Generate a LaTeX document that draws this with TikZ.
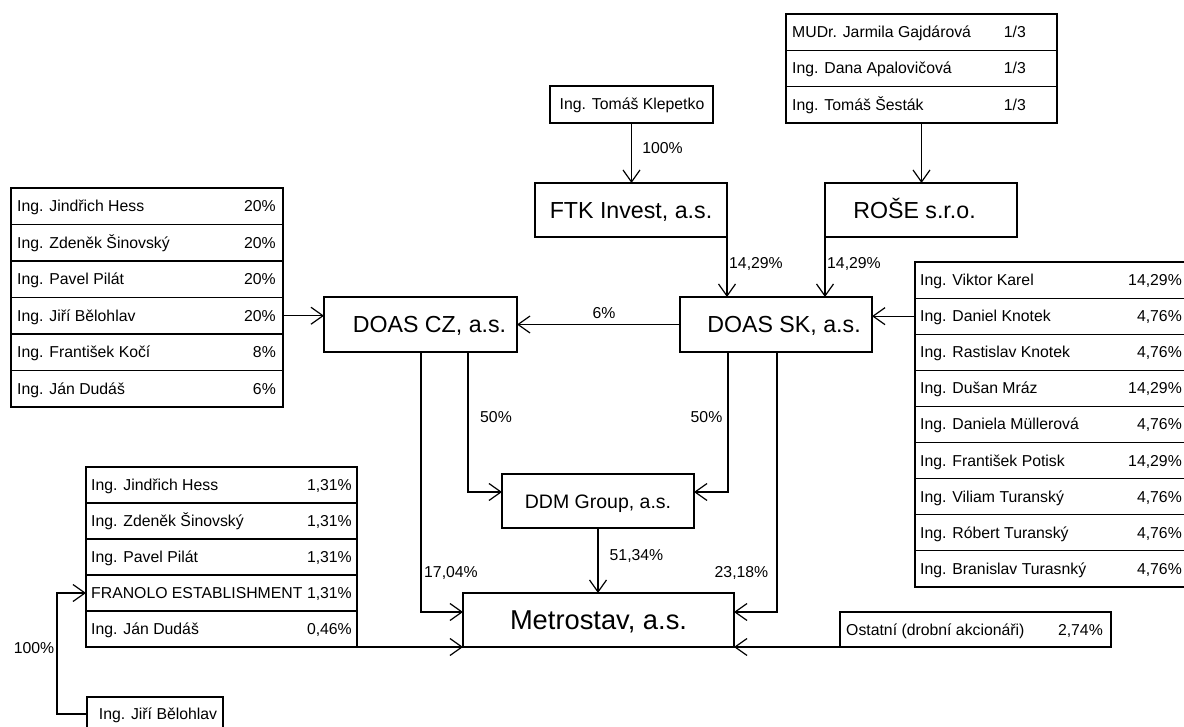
\documentclass[tikz,border=0pt]{standalone}
\usepackage{fontspec}
\setmainfont{Liberation Sans}
\usetikzlibrary{arrows.meta}
\begin{document}
\begin{tikzpicture}[x=1pt,y=-1pt,
  box/.style={draw, line width=1.2pt, inner sep=0pt, outer sep=0pt},
  ln/.style={line width=1.2pt},
  arr/.style={line width=1.2pt, -{Straight Barb[length=12pt,width=17pt]}},
  sm/.style={font=\fontsize{15.8}{18}\selectfont, inner sep=0pt},
  big/.style={font=\fontsize{23.2}{27}\selectfont, inner sep=0pt},
]
\useasboundingbox (0,0) rectangle (1184,727);

% ---------- main boxes ----------
\node[box, minimum width=163pt, minimum height=37pt] (klep) at (631.5,104.5) {};
\node[sm, anchor=base] (klept) at (632,110) {Ing. Tomáš Klepetko};

\node[box, minimum width=192pt, minimum height=54pt] (ftk) at (631,210) {};
\node[big, anchor=base] (ftkt) at (631,218.2) {FTK Invest, a.s.};

\node[box, minimum width=192pt, minimum height=54pt] (rose) at (921,210) {};
\node[big, anchor=base] (roset) at (914.5,218.2) {ROŠE s.r.o.};

\node[box, minimum width=193pt, minimum height=55pt] (cz) at (420.5,324.5) {};
\node[big, anchor=base] (czt) at (429.5,332.7) {DOAS CZ, a.s.};

\node[box, minimum width=192pt, minimum height=55pt] (sk) at (776,324.5) {};
\node[big, anchor=base] (skt) at (784,332.7) {DOAS SK, a.s.};

\node[box, minimum width=192pt, minimum height=54pt] (ddm) at (598,501) {};
\node[font=\fontsize{19.5}{23}\selectfont, inner sep=0pt, anchor=base] (ddmt) at (598,508) {DDM Group, a.s.};

\node[box, minimum width=271pt, minimum height=54pt] (metro) at (598.5,620) {};
\node[font=\fontsize{27.3}{32}\selectfont, inner sep=0pt, anchor=base] (metrot) at (598.5,629.7) {Metrostav, a.s.};

\node[box, minimum width=271pt, minimum height=35pt] (ost) at (975.5,629.5) {};
\node[sm, anchor=base west] (ostn) at (846,635) {Ostatní (drobní akcionáři)};
\node[sm, anchor=base east] (ostp) at (1103,635) {2,74\%};

\node[box, minimum width=136pt, minimum height=34pt] (bel) at (155,714) {};
\node[sm, anchor=base] (belt) at (158,719.5) {Ing. Jiří Bělohlav};

% ---------- tables ----------
% top right
\foreach \n [count=\i] in {MUDr. Jarmila Gajdárová, Ing. Dana Apalovičová, Ing. Tomáš Šesták}{
  \node[box, minimum width=271pt, minimum height=36.33pt] (tt\i) at (921.5,{14+36.33*(\i-0.5)}) {};
  \node[sm, anchor=base west] (ttn\i) at (792,{14+36.33*(\i-0.5)+5.5}) {\n};
  \node[sm, anchor=base east] (ttp\i) at (1026,{14+36.33*(\i-0.5)+5.5}) {1/3};
}
% left
\foreach \n/\p [count=\i] in {{Ing. Jindřich Hess}/{20\%}, {Ing. Zdeněk Šinovský}/{20\%}, {Ing. Pavel Pilát}/{20\%}, {Ing. Jiří Bělohlav}/{20\%}, {Ing. František Kočí}/{8\%}, {Ing. Ján Dudáš}/{6\%}}{
  \node[box, minimum width=272pt, minimum height=36.5pt] (lt\i) at (147,{188+36.5*(\i-0.5)}) {};
  \node[sm, anchor=base west] (ltn\i) at (17,{188+36.5*(\i-0.5)+5.5}) {\n};
  \node[sm, anchor=base east] (ltp\i) at (276,{188+36.5*(\i-0.5)+5.5}) {\p};
}
% right
\foreach \n/\p [count=\i] in {{Ing. Viktor Karel}/{14,29\%}, {Ing. Daniel Knotek}/{4,76\%}, {Ing. Rastislav Knotek}/{4,76\%}, {Ing. Dušan Mráz}/{14,29\%}, {Ing. Daniela Müllerová}/{4,76\%}, {Ing. František Potisk}/{14,29\%}, {Ing. Viliam Turanský}/{4,76\%}, {Ing. Róbert Turanský}/{4,76\%}, {Ing. Branislav Turasnký}/{4,76\%}}{
  \node[box, minimum width=271pt, minimum height=36.11pt] (rt\i) at (1050.5,{262+36.11*(\i-0.5)}) {};
  \node[sm, anchor=base west] (rtn\i) at (920,{262+36.11*(\i-0.5)+5.5}) {\n};
  \node[sm, anchor=base east] (rtp\i) at (1182,{262+36.11*(\i-0.5)+5.5}) {\p};
}
% bottom left
\foreach \n/\p [count=\i] in {{Ing. Jindřich Hess}/{1,31\%}, {Ing. Zdeněk Šinovský}/{1,31\%}, {Ing. Pavel Pilát}/{1,31\%}, {FRANOLO ESTABLISHMENT}/{1,31\%}, {Ing. Ján Dudáš}/{0,46\%}}{
  \node[box, minimum width=271pt, minimum height=36pt] (bt\i) at (221.5,{467+36*(\i-0.5)}) {};
  \node[sm, anchor=base west] (btn\i) at (91,{467+36*(\i-0.5)+5.5}) {\n};
  \node[sm, anchor=base east] (btp\i) at (352,{467+36*(\i-0.5)+5.5}) {\p};
}

% ---------- connectors ----------
\coordinate (c1) at (421,612);
\coordinate (c2) at (468,492);
\coordinate (c3) at (728,492);
\coordinate (c4) at (777,612);
\coordinate (c5) at (57,714);

\draw[arr] (klep.south) -- (klep.south |- ftk.north);
\draw[arr] (tt3.south) -- (tt3.south |- rose.north);
\draw[arr] (ftk.south east) -- (ftk.south east |- sk.north);
\draw[arr] (rose.south west) -- (rose.south west |- sk.north);
\draw[arr] (lt4.east) -- (lt4.east -| cz.west);
\draw[arr] (rt2.west) -- (rt2.west -| sk.east);
\draw[arr] (sk.west) -- (cz.east);
\draw[arr] (cz.south -| c1) -- (c1) -- (c1 -| metro.west);
\draw[arr] (cz.south -| c2) -- (c2) -- (c2 -| ddm.west);
\draw[arr] (sk.south -| c3) -- (c3) -- (c3 -| ddm.east);
\draw[arr] (sk.south -| c4) -- (c4) -- (c4 -| metro.east);
\draw[arr] (ddm.south) -- (ddm.south |- metro.north);
\draw[arr] (bt5.south east) -- (bt5.south east -| metro.west);
\draw[arr] (ost.south west) -- (ost.south west -| metro.east);
\draw[arr] (bel.west) -- (c5) |- (bt4.west);

% ---------- labels ----------
\node[sm, anchor=base] (l1) at (662.5,153.5) {100\%};
\node[sm, anchor=base] (l2) at (756,268.5) {14,29\%};
\node[sm, anchor=base] (l3) at (854,268.5) {14,29\%};
\node[sm, anchor=base] (l4) at (604,318.5) {6\%};
\node[sm, anchor=base] (l5) at (496,422.5) {50\%};
\node[sm, anchor=base] (l6) at (706.5,422.5) {50\%};
\node[sm, anchor=base] (l7) at (451,577.5) {17,04\%};
\node[sm, anchor=base] (l8) at (741.5,577) {23,18\%};
\node[sm, anchor=base] (l9) at (636.5,560.5) {51,34\%};
\node[sm, anchor=base] (l10) at (34,653.5) {100\%};
\end{tikzpicture}
\end{document}
